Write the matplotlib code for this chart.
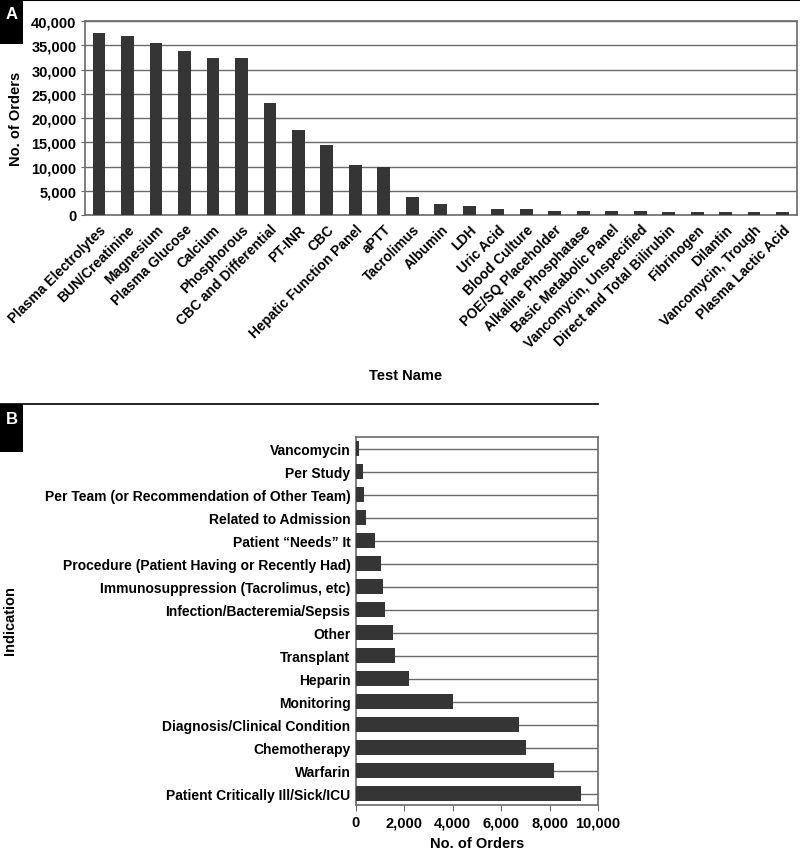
import matplotlib
matplotlib.use('Agg')
import matplotlib.pyplot as plt
from matplotlib.patches import Rectangle
from matplotlib.lines import Line2D

tests = ["Plasma Electrolytes", "BUN/Creatinine", "Magnesium", "Plasma Glucose", "Calcium",
         "Phosphorous", "CBC and Differential", "PT-INR", "CBC", "Hepatic Function Panel",
         "aPTT", "Tacrolimus", "Albumin", "LDH", "Uric Acid", "Blood Culture",
         "POE/SQ Placeholder", "Alkaline Phosphatase", "Basic Metabolic Panel",
         "Vancomycin, Unspecified", "Direct and Total Bilirubin", "Fibrinogen", "Dilantin",
         "Vancomycin, Trough", "Plasma Lactic Acid"]
test_orders = [37500, 36900, 35400, 33900, 32500, 32500, 23100, 17600, 14400, 10400,
               10000, 3800, 2300, 1900, 1200, 1150, 900, 900, 850, 800,
               700, 600, 600, 600, 600]

indications = ["Vancomycin", "Per Study", "Per Team (or Recommendation of Other Team)",
               "Related to Admission", "Patient \u201cNeeds\u201d It",
               "Procedure (Patient Having or Recently Had)", "Immunosuppression (Tacrolimus, etc)",
               "Infection/Bacteremia/Sepsis", "Other", "Transplant", "Heparin", "Monitoring",
               "Diagnosis/Clinical Condition", "Chemotherapy", "Warfarin",
               "Patient Critically Ill/Sick/ICU"]
indication_orders = [140, 280, 330, 400, 770, 1050, 1100, 1210, 1540, 1600, 2190, 4000,
                     6720, 7020, 8200, 9280]

plt.rcParams['font.family'] = ['Liberation Sans', 'DejaVu Sans']
plt.rcParams['font.weight'] = 'bold'
plt.rcParams['axes.labelweight'] = 'bold'
plt.rcParams['font.size'] = 10

bar_color = "#353535"
grid_color = "#6a6a6a"

fig = plt.figure(figsize=(8, 8.53), dpi=100)

# Panel A
axA = fig.add_axes([0.106, 0.7468, 0.890, 0.2272])
xpos = list(range(len(tests)))
axA.bar(xpos, test_orders, width=0.45, color=bar_color, zorder=3)
axA.set_xlim(-0.5, len(tests) - 0.5)
axA.set_ylim(0, 40000)
axA.set_yticks(range(0, 40001, 5000))
axA.set_yticklabels([f"{v:,}" for v in range(0, 40001, 5000)], fontsize=10.5)
axA.set_xticks(xpos)
axA.set_xticklabels(tests, rotation=45, ha="right", rotation_mode="anchor", fontsize=10)
axA.yaxis.grid(True, color=grid_color, linewidth=1, zorder=0)
axA.set_axisbelow(True)
axA.tick_params(axis="y", length=3, color=grid_color, pad=3)
axA.tick_params(axis="x", length=0, pad=5)
for s in axA.spines.values():
    s.set_color(grid_color)
    s.set_linewidth(1.2)
axA.set_ylabel("No. of Orders", fontsize=10.5, labelpad=6)
axA.set_xlabel("Test Name", fontsize=10.5)
axA.xaxis.set_label_coords(0.45, -0.79)

# Panel B
axB = fig.add_axes([0.445, 0.0551, 0.3025, 0.4314])
ypos = list(range(len(indications)))
axB.barh(ypos, indication_orders, height=0.66, color=bar_color, zorder=3)
axB.set_ylim(len(indications) - 0.5, -0.5)
axB.set_xlim(0, 10000)
axB.set_yticks(ypos)
axB.set_yticklabels(indications, fontsize=10)
axB.set_xticks(range(0, 10001, 2000))
axB.set_xticklabels([f"{v:,}" for v in range(0, 10001, 2000)], fontsize=10.5)
axB.yaxis.grid(True, color=grid_color, linewidth=1, zorder=0)
axB.set_axisbelow(True)
axB.tick_params(axis="y", length=0, pad=4)
axB.tick_params(axis="x", length=4, color=grid_color)
for s in axB.spines.values():
    s.set_color(grid_color)
    s.set_linewidth(1.2)
axB.set_xlabel("No. of Orders", fontsize=10.5, labelpad=5)
fig.text(0.012, 0.273, "Indication", rotation=90, ha="center", va="center",
         fontsize=10.5, fontweight="bold")

# panel separators and letter boxes
fig.add_artist(Line2D([0, 1], [0.999, 0.999], color="black", linewidth=1.5))
fig.add_artist(Line2D([0, 0.7475], [0.525, 0.525], color="black", linewidth=1.2))
fig.patches.append(Rectangle((0, 0.947), 0.029, 0.053, transform=fig.transFigure,
                             facecolor="black", edgecolor="none", figure=fig))
fig.patches.append(Rectangle((0, 0.469), 0.029, 0.056, transform=fig.transFigure,
                             facecolor="black", edgecolor="none", figure=fig))
fig.text(0.0145, 0.983, "A", color="white", ha="center", va="center", fontsize=12, fontweight="bold")
fig.text(0.0145, 0.508, "B", color="white", ha="center", va="center", fontsize=12, fontweight="bold")

fig.savefig("out.png", dpi=100)
